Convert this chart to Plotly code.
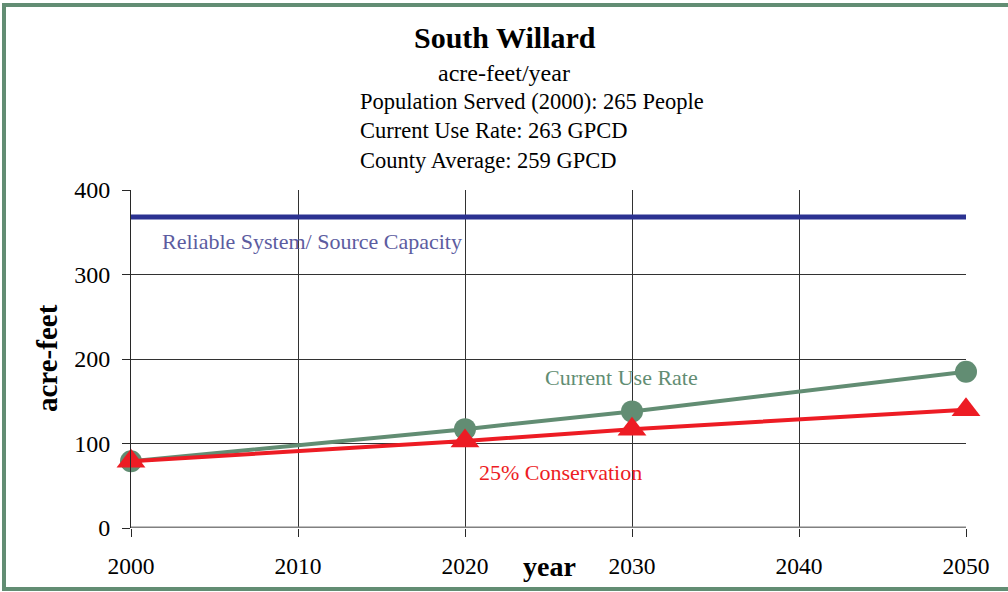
import plotly.graph_objects as go

# Projected water demand, South Willard
years = [2000, 2020, 2030, 2050]
current_use = [79, 117, 138, 185]
conservation = [79, 103, 117, 140]
capacity_years = [2000, 2050]
capacity = [368, 368]

x_ticks = [2000, 2010, 2020, 2030, 2040, 2050]
y_ticks = [0, 100, 200, 300, 400]

W, H = 1008, 592
L, R, T, B = 131, 966, 190, 528  # plot area in pixels

GREEN = "rgb(98,141,115)"
RED = "rgb(237,28,36)"
NAVY = "rgb(43,50,145)"
LABEL_BLUE = "rgb(92,92,160)"
FONT = "Liberation Serif"


def px(x):
    return (x - L) / (R - L)


def py(y):
    return (B - y) / (B - T)


fig = go.Figure()

fig.add_trace(go.Scatter(
    x=capacity_years, y=capacity, mode="lines",
    line=dict(color=NAVY, width=5), cliponaxis=False, showlegend=False,
))
fig.add_trace(go.Scatter(
    x=years, y=current_use, mode="lines+markers",
    line=dict(color=GREEN, width=4),
    marker=dict(symbol="circle", size=22, color=GREEN),
    cliponaxis=False, showlegend=False,
))
fig.add_trace(go.Scatter(
    x=years, y=conservation, mode="lines+markers",
    line=dict(color=RED, width=4),
    marker=dict(symbol="triangle-up", size=25, color=RED),
    cliponaxis=False, showlegend=False,
))

annotations = [
    dict(text="<b>South Willard</b>", x=px(505), y=py(37), size=30, color="black", xanchor="center"),
    dict(text="acre-feet/year", x=px(504), y=py(73), size=24, color="black", xanchor="center"),
    dict(text="Population Served (2000): 265 People", x=px(358), y=py(101), size=22.5, color="black", xanchor="left"),
    dict(text="Current Use Rate: 263 GPCD", x=px(358), y=py(130), size=22.5, color="black", xanchor="left"),
    dict(text="County Average: 259 GPCD", x=px(358), y=py(160), size=22.5, color="black", xanchor="left"),
    dict(text="<b>year</b>", x=px(549), y=py(566), size=28, color="black", xanchor="center"),
    dict(text="Reliable System/ Source Capacity", x=px(160), y=py(241), size=22, color=LABEL_BLUE, xanchor="left"),
    dict(text="Current Use Rate", x=px(543), y=py(377), size=22, color=GREEN, xanchor="left"),
    dict(text="25% Conservation", x=px(477), y=py(472), size=22, color=RED, xanchor="left"),
]

for a in annotations:
    fig.add_annotation(
        text=a["text"], x=a["x"], y=a["y"], xref="paper", yref="paper",
        xanchor=a["xanchor"], yanchor="middle", showarrow=False,
        font=dict(family=FONT, size=a["size"], color=a["color"]),
    )

fig.add_annotation(
    text="<b>acre-feet</b>", x=px(47), y=py(358), xref="paper", yref="paper",
    xanchor="center", yanchor="middle", showarrow=False, textangle=-90,
    font=dict(family=FONT, size=29, color="black"),
)

# outer frame
fig.add_shape(
    type="rect", xref="paper", yref="paper",
    x0=px(4), x1=px(1012), y0=py(589), y1=py(5),
    line=dict(color=GREEN, width=4), fillcolor="rgba(0,0,0,0)", layer="below",
)

fig.update_layout(
    width=W, height=H,
    margin=dict(l=L, r=W - R, t=T, b=H - B, pad=0, autoexpand=False),
    paper_bgcolor="white", plot_bgcolor="white",
    font=dict(family=FONT, color="black"),
    showlegend=False,
)

fig.update_xaxes(
    range=[2000, 2050], tickvals=x_ticks, ticktext=[str(v) for v in x_ticks],
    showgrid=True, gridcolor="rgb(50,50,50)", gridwidth=1,
    showline=False, zeroline=False, automargin=False,
    ticks="outside", ticklen=8, tickcolor="rgb(40,40,40)", tickwidth=1,
    tickfont=dict(family=FONT, size=23.5, color="black"),
    ticklabelstandoff=9,
)
fig.update_yaxes(
    range=[0, 400], tickvals=y_ticks, ticktext=[str(v) for v in y_ticks],
    showgrid=True, gridcolor="rgb(50,50,50)", gridwidth=1,
    showline=True, linecolor="rgb(40,40,40)", linewidth=1,
    zeroline=False, automargin=False,
    ticks="outside", ticklen=8, tickcolor="rgb(40,40,40)", tickwidth=1,
    tickfont=dict(family=FONT, size=24, color="black"),
    ticklabelstandoff=7,
)

# grey baseline at zero
fig.add_shape(
    type="line", xref="paper", yref="y", x0=0, x1=1, y0=0, y1=0,
    line=dict(color="rgb(128,128,128)", width=3), layer="above",
)

fig.write_html("out.html")
